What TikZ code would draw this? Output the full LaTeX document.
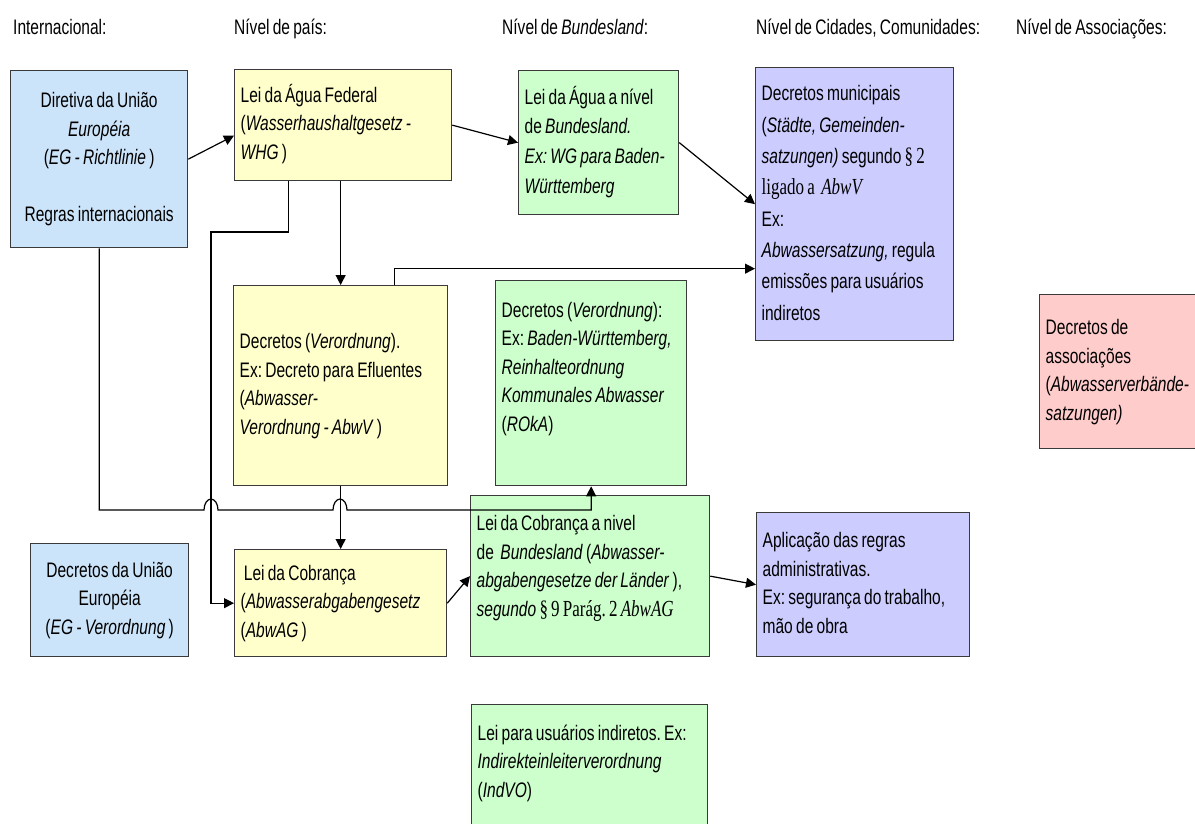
\documentclass[tikz,border=0pt]{standalone}
\usepackage{fontspec}
\setmainfont[FakeStretch=0.74,WordSpace=0.75]{Liberation Sans}
\newfontfamily\srf[FakeStretch=0.74,WordSpace=0.75]{Liberation Serif}
\usetikzlibrary{arrows.meta}
\definecolor{cblue}{HTML}{CCE4FA}
\definecolor{cyel}{HTML}{FFFFCC}
\definecolor{cgreen}{HTML}{CCFFCC}
\definecolor{cpurp}{HTML}{CCCCFF}
\definecolor{cpink}{HTML}{FFCCCC}
\definecolor{cline}{HTML}{3A3A3A}
\newcommand\LL[1]{\spaceskip=0pt\xspaceskip=0pt\begin{tabular}{@{}l@{}}#1\end{tabular}}
\newcommand\CC[1]{\spaceskip=0pt\xspaceskip=0pt\begin{tabular}{@{}c@{}}#1\end{tabular}}
\newcommand\ssz{\fontsize{21}{28.5}\selectfont\frenchspacing}
\newcommand\sr[1]{{\srf\fontsize{23}{28.5}\selectfont #1}}
\begin{document}
\begin{tikzpicture}[x=1pt,y=-1pt,
  box/.style={draw=cline,line width=1.3pt,anchor=north west,inner xsep=6pt,inner ysep=0pt,align=left,font=\ssz},
  hdr/.style={anchor=base west,inner sep=0pt,font=\ssz},
  arr/.style={draw=black,line width=1.2pt,-{Triangle[length=10pt,width=10pt]}}]
\useasboundingbox[fill=white] (0,0) rectangle (1195,823);

% headers
\node[hdr] (h1) at (13,34) {Internacional:};
\node[hdr] (h2) at (234,34) {Nível de país:};
\node[hdr] (h3) at (502,34) {Nível de \textit{Bundesland}:};
\node[hdr] (h4) at (756,34) {Nível de Cidades, Comunidades:};
\node[hdr] (h5) at (1016,34) {Nível de Associações:};

% boxes
\node[box,fill=cblue,text width=165pt,minimum height=177pt,align=center] (dir) at (10,70)
  {\CC{Diretiva da União\\ \textit{Européia}\\ (\textit{EG - Richtlinie} )\\ \\ Regras internacionais}};
\node[box,fill=cyel,text width=205pt,minimum height=111pt] (whg) at (234,69)
  {\LL{Lei da Água Federal\\ (\textit{Wasserhaushaltgesetz -}\\ \textit{WHG} )}};
\node[box,fill=cgreen,text width=148pt,minimum height=144pt] (agua) at (518,70)
  {\renewcommand\arraystretch{1.04}\LL{Lei da Água a nível\\ de \textit{Bundesland.}\\ \textit{Ex: WG para Baden-}\\ \textit{Württemberg}}};
\node[box,fill=cpurp,text width=186pt,minimum height=273pt] (mun) at (755,67)
  {\renewcommand\arraystretch{1.1}\LL{Decretos municipais\\ (\textit{Städte, Gemeinden-}\\ \textit{satzungen)} segundo \sr{§ 2}\\ \sr{ligado a \ \textit{AbwV}}\\ Ex:\\ \textit{Abwassersatzung,} regula\\ emissões para usuários\\ indiretos}};
\node[box,fill=cyel,text width=202pt,minimum height=200pt] (dec) at (233,285)
  {\LL{Decretos (\textit{Verordnung}).\\ Ex: Decreto para Efluentes\\ (\textit{Abwasser-}\\ \textit{Verordnung - AbwV} )}};
\node[box,fill=cgreen,text width=179pt,minimum height=205pt] (rok) at (495,280)
  {\LL{Decretos (\textit{Verordnung}):\\ Ex: \textit{Baden-Württemberg,}\\ \textit{Reinhalteordnung}\\ \textit{Kommunales Abwasser}\\ (\textit{ROkA})\rule[-38pt]{0pt}{38pt}}};
\node[box,fill=cpink,text width=168pt,minimum height=154pt] (pink) at (1039,294)
  {\LL{Decretos de\\ associações\\ (\textit{Abwasserverbände-}\\ \textit{satzungen)}}};
\node[box,fill=cblue,text width=146pt,minimum height=113pt,align=center] (eu2) at (30,543)
  {\CC{Decretos da União\\ Européia\\ (\textit{EG - Verordnung} )}};
\node[box,fill=cyel,text width=200pt,minimum height=107pt] (cob) at (234,549)
  {\LL{\ Lei da Cobrança\\ (\textit{Abwasserabgabengesetz}\\ (\textit{AbwAG} )}};
\node[box,fill=cgreen,text width=227pt,minimum height=161pt] (gcob) at (470,495)
  {\LL{Lei da Cobrança a nivel\\ de \ \textit{Bundesland} (\textit{Abwasser-}\\ \textit{abgabengesetze der Länder} ),\\ \textit{segundo} \sr{§ 9 Parág. 2 \textit{AbwAG}}\rule[-25pt]{0pt}{25pt}}};
\node[box,fill=cpurp,text width=201pt,minimum height=144pt] (apl) at (756,512)
  {\LL{Aplicação das regras\\ administrativas.\\ Ex: segurança do trabalho,\\ mão de obra}};
\node[box,fill=cgreen,text width=224pt,minimum height=122pt] (ind) at (471,704)
  {\LL{Lei para usuários indiretos. Ex:\\ \textit{Indirekteinleiterverordnung}\\ (\textit{IndVO})\rule[-14pt]{0pt}{14pt}}};

% connectors
\draw[arr] (dir.east) -- ([yshift=-10.5pt]whg.west);
\draw[arr] (whg.east) -- (agua.west);
\draw[arr] (agua.east) -- (mun.west);
\draw[arr] (whg.south -| dec.north) -- (dec.north);
\draw[arr] ([xshift=54pt]dec.north) |- ([yshift=-64.5pt]mun.west);
\draw[arr] ([xshift=-55pt]whg.south) |- (211,232) |- (cob.west);
\draw[arr] (dir.south) |- (204,510)
  arc[start angle=180,end angle=0,x radius=7pt,y radius=11pt] -- (333,510)
  arc[start angle=180,end angle=0,x radius=7pt,y radius=11pt] -| (rok.south);
\draw[arr] (dec.south) -- (cob.north);
\draw[arr] (cob.east) -- (gcob.west);
\draw[arr] (gcob.east) -- (apl.west);
\end{tikzpicture}
\end{document}
